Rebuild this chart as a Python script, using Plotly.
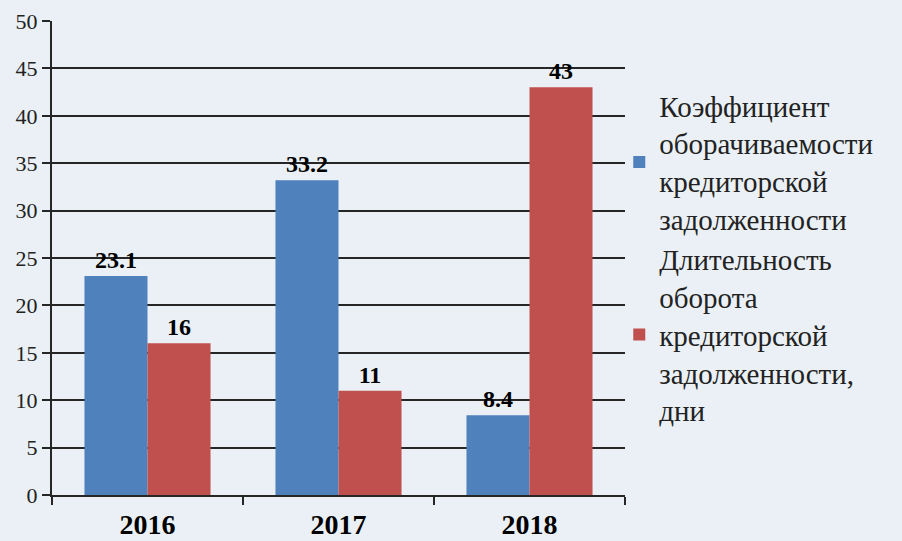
import plotly.graph_objects as go

years = ["2016", "2017", "2018"]
turnover_ratio = [23.1, 33.2, 8.4]
turnover_days = [16, 11, 43]
series_names = [
    "Коэффициент<br>оборачиваемости<br>кредиторской<br>задолженности",
    "Длительность<br>оборота<br>кредиторской<br>задолженности,<br>дни",
]
y_ticks = [0, 5, 10, 15, 20, 25, 30, 35, 40, 45, 50]

font_family = "Liberation Serif"
bg = "#eaf0f5"
ink = "#262626"

fig = go.Figure()
fig.add_trace(go.Bar(
    x=years, y=turnover_ratio, name=series_names[0],
    marker=dict(color="#4f81bd", line=dict(width=0)),
    text=[f"{v:g}" for v in turnover_ratio], textposition="outside",
    textfont=dict(family=font_family, size=24, color="#000000"),
    texttemplate="<b>%{text}</b>", cliponaxis=False,
))
fig.add_trace(go.Bar(
    x=years, y=turnover_days, name=series_names[1],
    marker=dict(color="#c0504d", line=dict(width=0)),
    text=[f"{v:g}" for v in turnover_days], textposition="outside",
    textfont=dict(family=font_family, size=24, color="#000000"),
    texttemplate="<b>%{text}</b>", cliponaxis=False,
))

fig.update_layout(
    width=902, height=541,
    paper_bgcolor=bg, plot_bgcolor=bg,
    margin=dict(l=52, r=277, t=21, b=46, autoexpand=False),
    barmode="group", bargap=0.34, bargroupgap=0,
    font=dict(family=font_family, size=22, color="#222222"),
    showlegend=True,
    legend=dict(
        x=0.99, xanchor="left", y=0.5, yanchor="middle",
        font=dict(family=font_family, size=29, color="#222222"),
        bgcolor="rgba(0,0,0,0)", tracegroupgap=0,
        itemwidth=30, valign="middle",
    ),
    uniformtext=dict(minsize=10, mode="show"),
)
fig.update_yaxes(
    range=[0, 50], tickvals=y_ticks, showgrid=True,
    gridcolor=ink, gridwidth=2,
    showline=True, linecolor=ink, linewidth=2,
    ticks="outside", ticklen=8, tickcolor=ink, tickwidth=2,
    tickfont=dict(family=font_family, size=22, color="#222222"),
    zeroline=False,
)
fig.update_xaxes(
    type="category", showgrid=False,
    showline=True, linecolor=ink, linewidth=2,
    ticks="outside", tickson="boundaries", ticklen=8, tickcolor=ink, tickwidth=2,
    ticklabelstandoff=3,
    tickfont=dict(family=font_family, size=28, color="#000000", weight="bold"),
)

fig.write_html(
    "out.html",
    config={"displayModeBar": False},
    post_script="document.body.style.margin='0';document.body.style.background='" + bg + "';",
)
